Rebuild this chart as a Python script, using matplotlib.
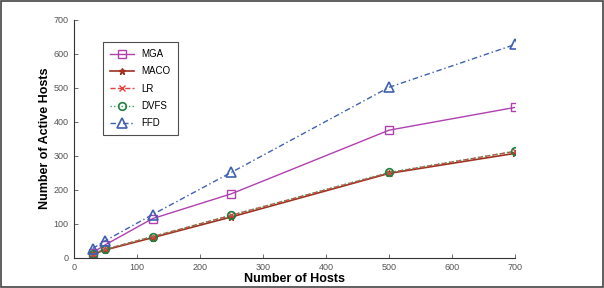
import matplotlib
matplotlib.use("Agg")
import matplotlib.pyplot as plt

plt.rcParams["font.family"] = ["Liberation Sans", "DejaVu Sans"]

# number of hosts
hosts = [30, 50, 125, 250, 500, 700]

# active hosts per algorithm
mga = [15, 38, 115, 188, 375, 442]
maco = [10, 23, 59, 120, 248, 307]
lr = [12, 25, 62, 125, 250, 313]
dvfs = [12, 25, 62, 125, 251, 313]
ffd = [27, 50, 127, 251, 501, 627]

fig = plt.figure(figsize=(6.04, 2.88), dpi=100)
ax = fig.add_axes([0.122, 0.105, 0.731, 0.827])

ax.plot(hosts, mga, color="#b040b0", lw=1.0, marker="s", ms=5.5,
        mfc="none", mec="#b040b0", label="MGA")
ax.plot(hosts, maco, color="#a03020", lw=1.2, marker="*", ms=5,
        mfc="#d03030", mec="#a03020", label="MACO")
ax.plot(hosts, lr, color="#e04040", lw=1.0, ls="--", marker="x", ms=4.5,
        mec="#e04040", label="LR")
ax.plot(hosts, dvfs, color="#40a060", lw=1.0, ls=":", marker="o", ms=5.5,
        mfc="none", mec="#208040", mew=1.2, label="DVFS")
ax.plot(hosts, ffd, color="#4060b0", lw=1.0, ls=(0, (4, 2, 1, 2)), marker="^", ms=6.5,
        mfc="none", mec="#4060b0", mew=1.2, label="FFD")

ax.set_xlim(0, 700)
ax.set_ylim(0, 700)
ax.set_xticks(range(0, 701, 100))
ax.set_yticks(range(0, 701, 100))
ax.tick_params(labelsize=6.5, colors="#555555", direction="in", length=3, width=0.6)
for s in ["top", "right"]:
    ax.spines[s].set_visible(False)
for s in ["left", "bottom"]:
    ax.spines[s].set_color("#333333")
    ax.spines[s].set_linewidth(0.8)

ax.set_xlabel("Number of Hosts", fontsize=9, fontweight="bold", labelpad=1)
ax.set_ylabel("Number of Active Hosts", fontsize=9, fontweight="bold", labelpad=2)

leg = ax.legend(loc="upper left", bbox_to_anchor=(0.055, 0.925), fontsize=7,
                frameon=True, fancybox=False, edgecolor="#222222",
                handlelength=2.5, labelspacing=0.75, borderpad=0.7)
leg.get_frame().set_linewidth(0.8)

# border around the figure
fig.patches.append(plt.Rectangle((0.002, 0.004), 0.996, 0.992, transform=fig.transFigure,
                                 fill=False, edgecolor="#444444", lw=1.2))

fig.savefig("out.png", dpi=100)
